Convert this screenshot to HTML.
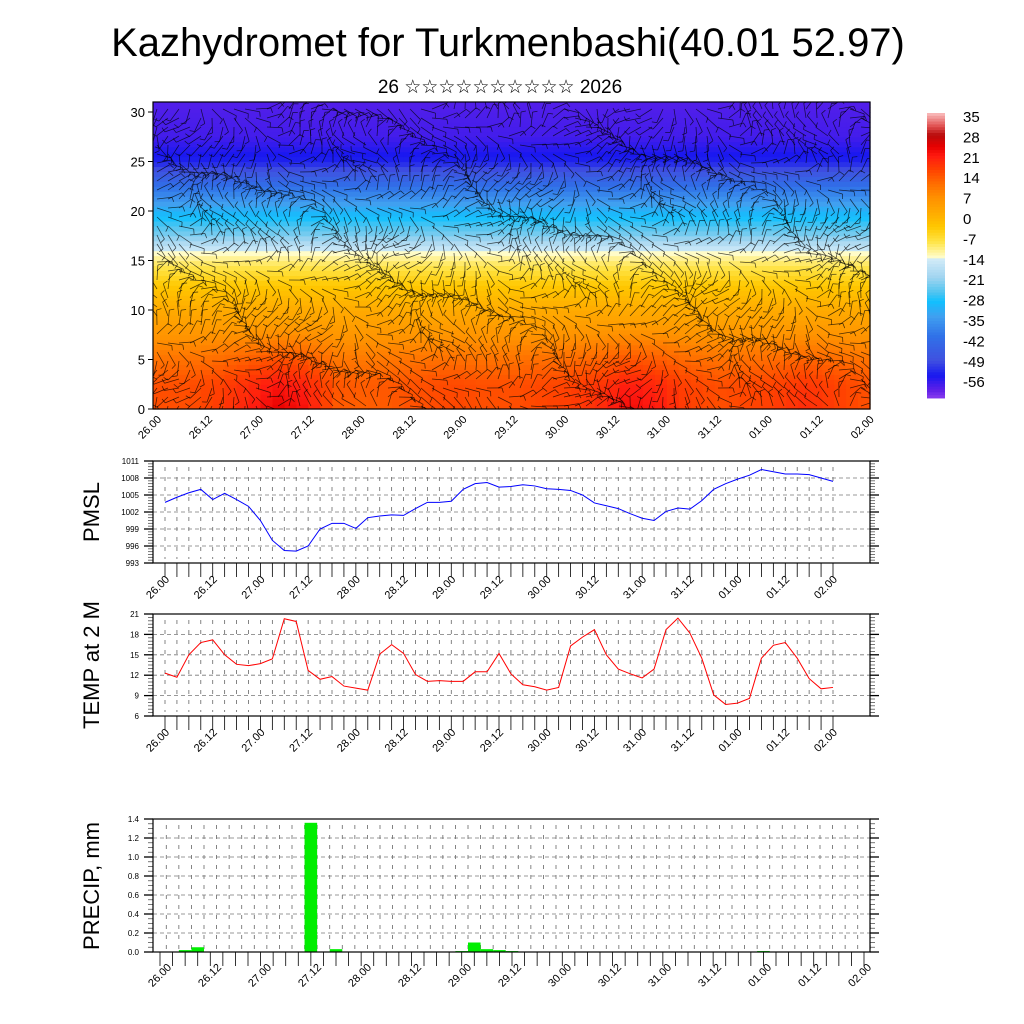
<!DOCTYPE html>
<html><head><meta charset="utf-8"><style>
html,body{margin:0;padding:0;background:#fff;}
svg{display:block;font-family:"Liberation Sans","DejaVu Sans",sans-serif;}
</style></head><body>
<svg id="root" width="1024" height="1024" viewBox="0 0 1024 1024" xmlns="http://www.w3.org/2000/svg">
<text x="508" y="56" font-size="40" text-anchor="middle">Kazhydromet for Turkmenbashi(40.01 52.97)</text>
<text x="500" y="93" font-size="19" text-anchor="middle" font-family="Liberation Sans, DejaVu Sans, sans-serif">26 ☆☆☆☆☆☆☆☆☆☆ 2026</text>
<g id="topsec"></g>
<g id="cbar"></g>
<g id="pmsl"></g>
<g id="temp"></g>
<g id="precip"></g>
<text transform="translate(99,512) rotate(-90)" font-size="22" text-anchor="middle">PMSL</text>
<text transform="translate(99,665) rotate(-90)" font-size="22" text-anchor="middle">TEMP at 2 M</text>
<text transform="translate(99,886) rotate(-90)" font-size="22" text-anchor="middle">PRECIP, mm</text>
</svg>
<script>
const NS="http://www.w3.org/2000/svg";
const timeLabels=["26.00","26.12","27.00","27.12","28.00","28.12","29.00","29.12","30.00","30.12","31.00","31.12","01.00","01.12","02.00"];
const pmslValues=[1003.7,1004.6,1005.4,1006,1004.2,1005.3,1004.2,1003,1000.5,997,995.2,995.1,996,999,1000,1000,999.1,1001,1001.3,1001.5,1001.4,1002.6,1003.7,1003.7,1003.9,1006,1007,1007.2,1006.4,1006.5,1006.8,1006.6,1006.1,1006,1005.8,1005,1003.6,1003.1,1002.6,1001.7,1000.9,1000.5,1002.1,1002.7,1002.5,1004,1006,1007,1007.8,1008.5,1009.5,1009.1,1008.7,1008.7,1008.6,1008,1007.4];
const pmslTicks=[993,996,999,1002,1005,1008,1011];
const tempValues=[12.3,11.7,15,16.8,17.2,15,13.6,13.4,13.7,14.4,20.3,19.9,12.7,11.4,11.8,10.4,10.1,9.8,15.1,16.5,15.2,12.1,11.1,11.2,11.1,11.1,12.5,12.5,15.2,12.2,10.6,10.3,9.8,10.2,16.3,17.6,18.7,15,12.9,12.2,11.6,12.9,18.7,20.4,18.2,14.5,9.1,7.7,7.9,8.6,14.5,16.4,16.8,14.5,11.5,10,10.2];
const tempTicks=[6,9,12,15,18,21];
const precipValues=[0,0,0.02,0.05,0,0,0,0,0,0,0,0,1.36,0,0.03,0,0,0,0,0,0,0,0,0,0.01,0.1,0.03,0.02,0.01,0,0,0,0,0,0,0,0,0,0,0,0,0,0,0,0,0,0,0,0.01,0,0,0,0,0,0,0,0];
const precipTicks=[0,0.2,0.4,0.6,0.8,1.0,1.2,1.4];
const heightTicks=[0,5,10,15,20,25,30];
const profileHeights=[0,2.5,5,7.5,10,12.5,15,16,17.5,20,22.5,25,27.5,31];
const profileTemps=[15,15,11,6,2,-3,-10,-14,-22,-30,-40,-52,-56,-57];
const surfaceAnomaly=[0,0,2,5,9,7,-1,-2,-1,0,1,0,0,1,2,4,8,6,2,0,1,2,4,2,0];
const cbarLabels=[35,28,21,14,7,0,-7,-14,-21,-28,-35,-42,-49,-56];
const cmapT=[35,31,28,24,21,16,12,7,2,-3,-8,-13,-13.5,-20,-25,-28,-33,-40,-48,-53,-58,-61];
const cmapC=["#f8b4b4","#e05050","#b80c0c","#e80000","#ff1a10","#ff4500","#ff6a00","#ff9000","#ffaa00","#ffc800","#ffe448","#fffcc8","#d4ecf8","#a0d4f0","#50c4f0","#10c0ff","#40a0f0","#3070e8","#4050e0","#1818f0","#6020e8","#9040f0"];
function el(tag,attrs,parent){const e=document.createElementNS(NS,tag);for(const k in attrs)e.setAttribute(k,attrs[k]);if(parent)parent.appendChild(e);return e;}
function hex(c){return [parseInt(c.substr(1,2),16),parseInt(c.substr(3,2),16),parseInt(c.substr(5,2),16)];}
function cmap(t){if(t>=cmapT[0])return cmapC[0];for(let i=0;i<cmapT.length-1;i++){if(t<=cmapT[i]&&t>=cmapT[i+1]){const f=(cmapT[i]-t)/(cmapT[i]-cmapT[i+1]);const a=hex(cmapC[i]),b=hex(cmapC[i+1]);return "rgb("+a.map((v,j)=>Math.round(v+(b[j]-v)*f)).join(",")+")";}}return cmapC[cmapC.length-1];}
function interp(xs,ys,x){for(let i=0;i<xs.length-1;i++){if(x>=xs[i]&&x<=xs[i+1]){return ys[i]+(ys[i+1]-ys[i])*(x-xs[i])/(xs[i+1]-xs[i]);}}return ys[ys.length-1];}

// ---------- top cross-section
const topPanel=document.getElementById('topsec');
const TX0=153,TX1=870,TY0=102,TY1=409;
const hy=h=>TY1-(TY1-112)*h/30;
const NC=60,NR=62;
for(let c=0;c<NC;c++){for(let r=0;r<NR;r++){
 const h=r*31/NR+0.25;const tf=c/(NC-1)*(surfaceAnomaly.length-1);
 const an=interp(surfaceAnomaly.map((v,i)=>i),surfaceAnomaly,tf);
 const t=interp(profileHeights,profileTemps,h)+an*Math.max(0,1-h/9);
 const x=TX0+(TX1-TX0)*c/NC,w=(TX1-TX0)/NC+0.6;
 const y0=Math.max(TY0,hy((r+1)*31/NR));const y1=hy(r*31/NR);
 const rc=el('rect',{x:x,y:y0,width:w,height:y1-y0+0.6,fill:cmap(t)},topPanel);
 
 
}}
const clipP=el('clipPath',{id:'topclip'},topPanel);
el('rect',{x:TX0,y:TY0,width:TX1-TX0,height:TY1-TY0},clipP);
const wg=el('g',{stroke:'#000','stroke-width':0.75,'stroke-opacity':0.7,'clip-path':'url(#topclip)'},topPanel);


for(let i=0;i<66;i++){for(let j=0;j<34;j++){
 const x=TX0+4+i*11,y=TY1-3-j*9;if(y<TY0+2)continue;
 const a=Math.sin(i*0.29+j*0.43)*1.6+Math.cos(j*0.23-i*0.17)*1.1+Math.sin(i*0.9)*0.3;
 const L=15,dx=Math.cos(a)*L,dy=Math.sin(a)*L;
 el('line',{x1:x,y1:y,x2:x+dx,y2:y+dy},wg);
 el('line',{x1:x+dx,y1:y+dy,x2:x+dx+Math.cos(a+1.3)*5,y2:y+dy+Math.sin(a+1.3)*5},wg);
}}
el('rect',{x:TX0,y:TY0,width:TX1-TX0,height:TY1-TY0,fill:'none',stroke:'#000','stroke-width':1.2},topPanel);
heightTicks.forEach(v=>{
 el('line',{x1:TX0,x2:TX0-5,y1:hy(v),y2:hy(v),stroke:'#000'},topPanel);
 const t=el('text',{x:TX0-8,y:hy(v)+5,'font-size':13,'text-anchor':'end'},topPanel);t.textContent=v;
 
});
function xlabels(g,x0,dx,y){timeLabels.forEach((s,i)=>{const x=x0+dx*i;const t=el('text',{transform:`translate(${x},${y}) rotate(-45)`,'font-size':11,'text-anchor':'end'},g);t.textContent=s;
 });}
xlabels(topPanel,162,50.9,420);

// ---------- colorbar
const cb=document.getElementById('cbar');
for(let i=0;i<100;i++){const t=35-(96*i/100);el('rect',{x:927,y:113+2.85*i,width:18,height:3.3,fill:cmap(t)},cb);}
cbarLabels.forEach((v,i)=>{const t=el('text',{x:963,y:122+20.4*i,'font-size':15},cb);t.textContent=v;
 });

// ---------- line panel helper
function panel(g,y0,y1,ticks,vals,color,fmt){
 const X0=153,X1=870,px0=165,px1=833;
 const ys=v=>y1-(y1-y0)*(v-ticks[0])/(ticks[ticks.length-1]-ticks[0]);
 const xs=i=>px0+(px1-px0)*i/(vals.length-1);
 for(let i=0;i<vals.length;i++){el('line',{x1:xs(i),x2:xs(i),y1:y0+6,y2:y1-4,stroke:'#666','stroke-dasharray':'4,6','stroke-width':0.8},g);
  el('line',{x1:xs(i),x2:xs(i),y1:y1,y2:y1+14,stroke:'#000','stroke-width':0.8},g);}
 ticks.forEach((v,k)=>{el('line',{x1:X0,x2:X1,y1:ys(v),y2:ys(v),stroke:'#777','stroke-dasharray':'4,3','stroke-width':0.8},g);
  el('line',{x1:X0-9,x2:X0,y1:ys(v),y2:ys(v),stroke:'#000','stroke-width':1.3},g);
  el('line',{x1:X1,x2:X1+9,y1:ys(v),y2:ys(v),stroke:'#000','stroke-width':1.3},g);
  if(k<ticks.length-1)for(let m=1;m<6;m++){const yy=ys(v)+(ys(ticks[k+1])-ys(v))*m/6;
   el('line',{x1:X0-5,x2:X0,y1:yy,y2:yy,stroke:'#555','stroke-width':0.8},g);el('line',{x1:X1,x2:X1+5,y1:yy,y2:yy,stroke:'#555','stroke-width':0.8},g);}
  const t=el('text',{x:X0-14,y:ys(v)+3,'font-size':8,'text-anchor':'end'},g);t.textContent=fmt(v);
  });
 el('rect',{x:X0,y:y0,width:X1-X0,height:y1-y0,fill:'none',stroke:'#000','stroke-width':1.2},g);
 const pl=el('polyline',{points:vals.map((v,i)=>xs(i)+','+ys(v)).join(' '),fill:'none',stroke:color,'stroke-width':1},g);
 
 xlabels(g,170,47.7,y1+17);
}
panel(document.getElementById('pmsl'),461,563,pmslTicks,pmslValues,'#0000ff',v=>v);
panel(document.getElementById('temp'),614,716,tempTicks,tempValues,'#ff0000',v=>v);

// ---------- precip
const pg=document.getElementById('precip');
const PX0=153,PX1=870,PY0=819,PY1=952,bx0=160,bx1=864;
const pys=v=>PY1-(PY1-PY0)*v/1.4;
const bw=(bx1-bx0)/(precipValues.length-1);
const pxs=i=>bx0+bw*i;
for(let i=0;i<precipValues.length;i++){el('line',{x1:pxs(i)+bw/2,x2:pxs(i)+bw/2,y1:PY0+6,y2:PY1-3,stroke:'#666','stroke-dasharray':'4,6','stroke-width':0.8},pg);
 el('line',{x1:pxs(i),x2:pxs(i),y1:PY1,y2:PY1+14,stroke:'#000','stroke-width':0.8},pg);}
precipTicks.forEach((v,k)=>{el('line',{x1:PX0,x2:PX1,y1:pys(v),y2:pys(v),stroke:'#777','stroke-dasharray':'4,3','stroke-width':0.8},pg);
 el('line',{x1:PX0-9,x2:PX0,y1:pys(v),y2:pys(v),stroke:'#000','stroke-width':1.3},pg);
 el('line',{x1:PX1,x2:PX1+9,y1:pys(v),y2:pys(v),stroke:'#000','stroke-width':1.3},pg);
 if(k<precipTicks.length-1)for(let m=1;m<4;m++){const yy=pys(v)+(pys(precipTicks[k+1])-pys(v))*m/4;
  el('line',{x1:PX0-5,x2:PX0,y1:yy,y2:yy,stroke:'#555','stroke-width':0.8},pg);el('line',{x1:PX1,x2:PX1+5,y1:yy,y2:yy,stroke:'#555','stroke-width':0.8},pg);}
 const t=el('text',{x:PX0-14,y:pys(v)+3,'font-size':8,'text-anchor':'end'},pg);t.textContent=v.toFixed(1);
 });
precipValues.forEach((v,i)=>{if(v<=0)return;const r=el('rect',{x:pxs(i)-bw/2,y:pys(v),width:bw,height:PY1-pys(v),fill:'#00ee00'},pg);
 });
el('rect',{x:PX0,y:PY0,width:PX1-PX0,height:PY1-PY0,fill:'none',stroke:'#000','stroke-width':1.2},pg);
xlabels(pg,172,50,968);
</script>
</body></html>
